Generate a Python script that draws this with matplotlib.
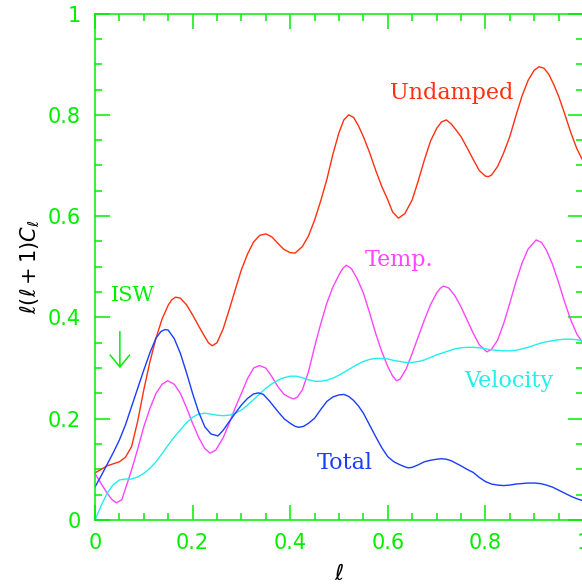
import matplotlib.pyplot as plt
from matplotlib.ticker import MultipleLocator, FuncFormatter

# values
x_undamped = [0, 0.0125, 0.025, 0.0375, 0.05, 0.0625, 0.075, 0.0875, 0.1, 0.1125, 0.125, 0.1375, 0.15,
              0.1575, 0.165, 0.175, 0.1875, 0.2, 0.2125, 0.225, 0.2325, 0.24, 0.25, 0.2625, 0.275,
              0.2875, 0.3, 0.3125, 0.325, 0.3375, 0.35, 0.3625, 0.375, 0.3875, 0.4, 0.41, 0.425,
              0.4375, 0.45, 0.4625, 0.475, 0.4875, 0.5, 0.51, 0.52, 0.53, 0.54, 0.55, 0.5625, 0.575,
              0.5875, 0.6, 0.61, 0.622, 0.635, 0.65, 0.6625, 0.675, 0.6875, 0.7, 0.71, 0.72, 0.73,
              0.74, 0.75, 0.7625, 0.775, 0.7875, 0.8, 0.806, 0.8125, 0.825, 0.8375, 0.85, 0.8625,
              0.875, 0.8875, 0.9, 0.91, 0.92, 0.93, 0.94, 0.95, 0.9625, 0.975, 0.9875, 1.0]
y_undamped = [0.093, 0.100, 0.107, 0.111, 0.115, 0.124, 0.145, 0.195, 0.257, 0.312, 0.359, 0.397, 0.424,
              0.435, 0.440, 0.438, 0.425, 0.405, 0.383, 0.362, 0.350, 0.344, 0.350, 0.377, 0.415,
              0.455, 0.494, 0.525, 0.549, 0.562, 0.565, 0.559, 0.546, 0.534, 0.528, 0.527, 0.540,
              0.561, 0.592, 0.630, 0.672, 0.722, 0.765, 0.790, 0.800, 0.795, 0.778, 0.757, 0.726, 0.691,
              0.659, 0.632, 0.608, 0.596, 0.605, 0.632, 0.670, 0.711, 0.748, 0.773, 0.786, 0.790, 0.782,
              0.770, 0.757, 0.735, 0.712, 0.690, 0.679, 0.678, 0.681, 0.698, 0.725, 0.757, 0.798,
              0.837, 0.868, 0.888, 0.895, 0.892, 0.880, 0.860, 0.837, 0.802, 0.765, 0.733, 0.709]

x_temp = [0, 0.0125, 0.025, 0.035, 0.044, 0.055, 0.0625, 0.075, 0.0875, 0.1, 0.1125, 0.125, 0.1375,
          0.149, 0.1625, 0.175, 0.1875, 0.2, 0.2125, 0.225, 0.236, 0.2475, 0.2625, 0.275, 0.2875, 0.3,
          0.3125, 0.325, 0.337, 0.35, 0.3625, 0.375, 0.3875, 0.4, 0.407, 0.415, 0.425, 0.4375, 0.45,
          0.4625, 0.475, 0.4875, 0.5, 0.508, 0.515, 0.525, 0.5375, 0.55, 0.5625, 0.575, 0.5875, 0.6,
          0.61, 0.618, 0.625, 0.6375, 0.65, 0.6625, 0.675, 0.6875, 0.7, 0.707, 0.714, 0.725, 0.7375,
          0.75, 0.7625, 0.775, 0.7875, 0.803, 0.8125, 0.825, 0.8375, 0.85, 0.8625, 0.875, 0.8875,
          0.904, 0.915, 0.925, 0.9375, 0.95, 0.9625, 0.975, 0.9875, 1.0]
y_temp = [0.092, 0.072, 0.053, 0.040, 0.034, 0.040, 0.062, 0.099, 0.140, 0.184, 0.220, 0.250, 0.268,
          0.275, 0.268, 0.250, 0.222, 0.191, 0.163, 0.141, 0.132, 0.138, 0.162, 0.191, 0.222, 0.250,
          0.279, 0.300, 0.305, 0.300, 0.283, 0.263, 0.248, 0.2415, 0.239, 0.243, 0.257, 0.293, 0.342,
          0.387, 0.428, 0.460, 0.484, 0.497, 0.503, 0.497, 0.476, 0.448, 0.410, 0.369, 0.333, 0.303,
          0.284, 0.275, 0.278, 0.298, 0.329, 0.362, 0.395, 0.425, 0.448, 0.457, 0.462, 0.458, 0.443,
          0.421, 0.395, 0.369, 0.346, 0.332, 0.337, 0.355, 0.388, 0.428, 0.470, 0.507, 0.535,
          0.553, 0.548, 0.533, 0.505, 0.469, 0.430, 0.395, 0.367, 0.349]

x_vel = [0, 0.0125, 0.025, 0.0375, 0.05, 0.0625, 0.075, 0.0875, 0.1, 0.1125, 0.125, 0.1375, 0.15,
         0.1625, 0.175, 0.1875, 0.2, 0.2125, 0.225, 0.2375, 0.25, 0.2625, 0.275, 0.2875, 0.3, 0.3125,
         0.325, 0.3375, 0.35, 0.3625, 0.375, 0.3875, 0.4, 0.4125, 0.425, 0.4375, 0.45, 0.4625, 0.475,
         0.4875, 0.5, 0.5125, 0.525, 0.5375, 0.55, 0.5625, 0.575, 0.5875, 0.6, 0.6125, 0.625, 0.6375,
         0.65, 0.6625, 0.675, 0.6875, 0.7, 0.7125, 0.725, 0.7375, 0.75, 0.7625, 0.775, 0.7875, 0.8,
         0.8125, 0.825, 0.8375, 0.85, 0.8625, 0.875, 0.8875, 0.9, 0.9125, 0.925, 0.9375, 0.95, 0.9625,
         0.975, 0.9875, 1.0]
y_vel = [0.0, 0.028, 0.053, 0.070, 0.079, 0.081, 0.081, 0.085, 0.092, 0.102, 0.115, 0.131, 0.148,
         0.164, 0.178, 0.192, 0.203, 0.209, 0.211, 0.209, 0.207, 0.206, 0.207, 0.211, 0.217, 0.227,
         0.238, 0.249, 0.260, 0.269, 0.276, 0.281, 0.284, 0.284, 0.281, 0.277, 0.274, 0.274, 0.276,
         0.280, 0.286, 0.293, 0.300, 0.307, 0.313, 0.317, 0.319, 0.319, 0.318, 0.315, 0.313, 0.311,
         0.311, 0.313, 0.316, 0.321, 0.326, 0.330, 0.334, 0.338, 0.340, 0.341, 0.341, 0.340, 0.338,
         0.336, 0.335, 0.334, 0.334, 0.335, 0.338, 0.341, 0.345, 0.349, 0.352, 0.354, 0.356, 0.357,
         0.357, 0.356, 0.354]

x_total = [0, 0.0125, 0.025, 0.0375, 0.05, 0.0625, 0.075, 0.0875, 0.1, 0.1125, 0.125, 0.135, 0.143,
           0.15, 0.1625, 0.175, 0.1875, 0.2, 0.2125, 0.225, 0.2375, 0.252, 0.2625, 0.275, 0.2875, 0.3,
           0.3125, 0.325, 0.335, 0.345, 0.3575, 0.375, 0.3875, 0.4, 0.41, 0.418, 0.4275, 0.4375, 0.45,
           0.4625, 0.475, 0.4875, 0.5, 0.51, 0.52, 0.53, 0.54, 0.55, 0.5625, 0.575, 0.5875, 0.6,
           0.6125, 0.625, 0.635, 0.642, 0.65, 0.6625, 0.675, 0.6875, 0.7, 0.71, 0.72, 0.73, 0.74,
           0.75, 0.7625, 0.775, 0.7875, 0.8, 0.8125, 0.825, 0.8375, 0.85, 0.8625, 0.875, 0.8875, 0.9,
           0.9125, 0.925, 0.9375, 0.95, 0.9625, 0.975, 0.9875, 1.0]
y_total = [0.065, 0.087, 0.110, 0.133, 0.158, 0.188, 0.224, 0.260, 0.296, 0.330, 0.359, 0.372, 0.376,
           0.375, 0.358, 0.329, 0.291, 0.250, 0.213, 0.184, 0.170, 0.166, 0.177, 0.194, 0.211, 0.227,
           0.240, 0.249, 0.251, 0.248, 0.235, 0.214, 0.200, 0.191, 0.185, 0.183, 0.185, 0.191, 0.201,
           0.218, 0.234, 0.243, 0.247, 0.248, 0.244, 0.236, 0.225, 0.211, 0.188, 0.165, 0.143, 0.125,
           0.115, 0.109, 0.105, 0.103, 0.104, 0.109, 0.115, 0.118, 0.120, 0.121, 0.120, 0.117, 0.112,
           0.107, 0.100, 0.094, 0.084, 0.076, 0.071, 0.069, 0.068, 0.069, 0.071, 0.072, 0.073, 0.073,
           0.072, 0.069, 0.065, 0.059, 0.053, 0.047, 0.042, 0.038]

green = '#00ee00'
c_red = '#ff3010'
c_mag = '#ff44ff'
c_cyan = '#22eeee'
c_blue = '#1a3cff'

fig = plt.figure(figsize=(5.82, 5.86), dpi=100)
ax = fig.add_axes([0.1632, 0.1126, 0.8385, 0.8643])

ax.plot(x_undamped, y_undamped, color=c_red, lw=1.0)
ax.plot(x_temp, y_temp, color=c_mag, lw=1.0)
ax.plot(x_vel, y_vel, color=c_cyan, lw=1.0)
ax.plot(x_total, y_total, color=c_blue, lw=1.0)

ax.set_xlim(0, 1)
ax.set_ylim(0, 1)

ax.xaxis.set_major_locator(MultipleLocator(0.2))
ax.xaxis.set_minor_locator(MultipleLocator(0.05))
ax.yaxis.set_major_locator(MultipleLocator(0.2))
ax.yaxis.set_minor_locator(MultipleLocator(0.05))
fmt = FuncFormatter(lambda v, p: f'{v:g}')
ax.xaxis.set_major_formatter(fmt)
ax.yaxis.set_major_formatter(fmt)

ax.tick_params(which='both', direction='in', top=True, right=True, color=green, width=1.1)
ax.tick_params(which='major', length=11)
ax.tick_params(which='minor', length=5)
ax.tick_params(axis='x', which='major', labelsize=15, labelcolor=green, pad=9)
ax.tick_params(axis='y', which='major', labelsize=15, labelcolor=green, pad=10)
for s in ax.spines.values():
    s.set_color(green)
    s.set_linewidth(1.1)

ax.set_ylabel(r'$\ell(\ell+1)C_\ell$', fontsize=15, labelpad=4)
ax.set_xlabel(r'$\ell$', fontsize=16, labelpad=8)

ax.text(0.731, 0.843, 'Undamped', color=c_red, fontsize=16, family='DejaVu Serif', ha='center', va='center')
ax.text(0.623, 0.513, 'Temp.', color=c_mag, fontsize=16, family='DejaVu Serif', ha='center', va='center')
ax.text(0.848, 0.274, 'Velocity', color=c_cyan, fontsize=16, family='DejaVu Serif', ha='center', va='center')
ax.text(0.511, 0.113, 'Total', color=c_blue, fontsize=16, family='DejaVu Serif', ha='center', va='center')
ax.text(0.077, 0.444, 'ISW', color=green, fontsize=15, family='DejaVu Serif', ha='center', va='center')

ax.annotate('', xy=(0.051, 0.300), xytext=(0.051, 0.372),
            arrowprops=dict(arrowstyle='->,head_length=0.85,head_width=0.7', color=green, lw=1.1,
                            shrinkA=0, shrinkB=0))

plt.savefig('out.png', dpi=100)
